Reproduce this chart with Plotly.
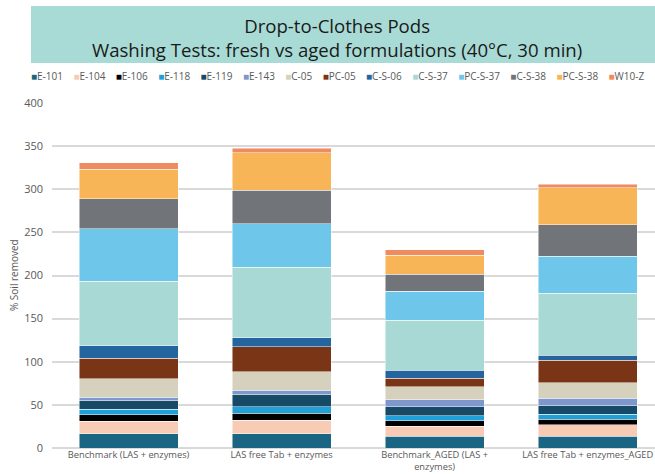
import plotly.graph_objects as go

categories = ["Benchmark (LAS + enzymes)", "LAS free Tab + enzymes",
              "Benchmark_AGED (LAS +<br>enzymes)", "LAS free Tab + enzymes_AGED"]

series_names = ["E-101", "E-104", "E-106", "E-118", "E-119", "E-143", "C-05",
                "PC-05", "C-S-06", "C-S-37", "PC-S-37", "C-S-38", "PC-S-38", "W10-Z"]

E_101 = [16.6, 16.6, 13.6, 13.6]
E_104 = [14.7, 15.5, 11.6, 13.1]
E_106 = [7.4, 8.1, 6.2, 6.6]
E_118 = [6.2, 7.4, 5.8, 5.8]
E_119 = [10.4, 14.7, 10.5, 10.1]
E_143 = [3.5, 4.6, 8.1, 8.6]
C_05 = [21.6, 21.7, 15.1, 17.8]
PC_05 = [23.6, 29.0, 9.7, 26.3]
C_S_06 = [14.3, 10.4, 9.7, 5.9]
C_S_37 = [75.0, 81.6, 58.1, 71.7]
PC_S_37 = [60.8, 50.3, 33.4, 42.6]
C_S_38 = [34.8, 39.0, 19.8, 36.6]
PC_S_38 = [34.4, 43.3, 22.0, 43.3]
W10_Z = [7.3, 5.5, 6.2, 3.9]

series_values = [E_101, E_104, E_106, E_118, E_119, E_143, C_05, PC_05,
                 C_S_06, C_S_37, PC_S_37, C_S_38, PC_S_38, W10_Z]

colors = ["#1b6584", "#f8cbb5", "#000000", "#1da1d8", "#164a66", "#7f98cc",
          "#d6d1bc", "#7a3416", "#2465a0", "#a8d9d4", "#6ec6ea", "#717478",
          "#f7b558", "#ef8b5f"]

y_ticks = [0, 50, 100, 150, 200, 250, 300, 350, 400]

W, H = 655, 474
L, R, T, B = 52, 0, 103, 26
pw, ph = W - L - R, H - T - B

def px_x(x):
    return (x - L) / pw

def px_y(y):
    return (H - B - y) / ph

fig = go.Figure()
for name, vals, col in zip(series_names, series_values, colors):
    fig.add_trace(go.Bar(
        name=name, x=categories, y=vals, width=0.647,
        marker=dict(color=col, line=dict(color="rgba(255,255,255,0.8)", width=0.6)),
        showlegend=False,
    ))

gray = "#595959"
font_family = "Open Sans"

# title box
fig.add_shape(type="rect", xref="paper", yref="paper",
              x0=px_x(31), x1=px_x(660), y0=px_y(63), y1=px_y(6),
              fillcolor="#a8dbd5", line=dict(width=0), layer="below")
fig.add_annotation(xref="paper", yref="paper", x=px_x(337), y=px_y(37.5),
                   text="Drop-to-Clothes Pods<br>Washing Tests: fresh vs aged formulations (40°C, 30 min)",
                   showarrow=False, font=dict(family=font_family, size=18.6, color="#1a1a1a"),
                   align="center", xanchor="center", yanchor="middle")

# legend as text
parts = []
for name, col in zip(series_names, colors):
    parts.append("<span style='color:%s;font-size:10px'>■</span>%s" % (col, name))
legend_text = "&nbsp;&nbsp;&nbsp;&nbsp;".join(parts)
fig.add_annotation(xref="paper", yref="paper", x=px_x(337), y=px_y(76),
                   text=legend_text, showarrow=False,
                   font=dict(family=font_family, size=10, color=gray),
                   xanchor="center", yanchor="middle")

# y axis title
fig.add_annotation(xref="paper", yref="paper", x=px_x(14), y=px_y(275),
                   text="% Soil removed", textangle=-90, showarrow=False,
                   font=dict(family=font_family, size=10, color=gray),
                   xanchor="center", yanchor="middle")

fig.update_layout(
    width=W, height=H, barmode="stack",
    margin=dict(l=L, r=R, t=T, b=B, autoexpand=False),
    paper_bgcolor="white", plot_bgcolor="white",
    font=dict(family=font_family, color=gray),
)
fig.update_xaxes(range=[-0.5, 3.44], tickfont=dict(size=9.3, color=gray),
                 showgrid=False, showline=False, ticks="", automargin=False,
                 ticklabelstandoff=0)
fig.update_yaxes(range=[0, 400], tickvals=y_ticks, tickfont=dict(size=11, color=gray),
                 gridcolor="#d9d9d9", gridwidth=1.5, zeroline=True,
                 zerolinecolor="#d9d9d9", zerolinewidth=1.5, showline=False,
                 ticks="", ticklabelstandoff=8, automargin=False)

fig.write_html("out.html", config={"displayModeBar": False},
               post_script="document.body.style.margin='0';")
